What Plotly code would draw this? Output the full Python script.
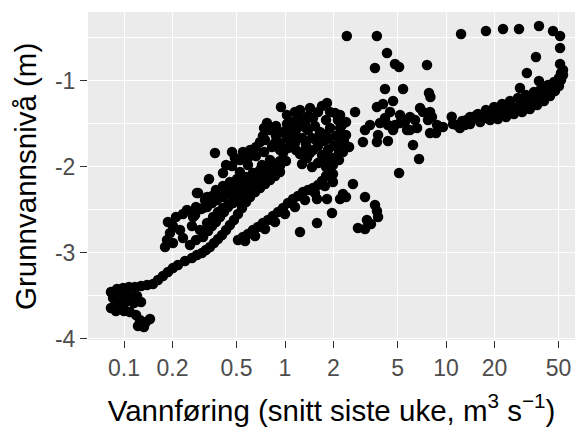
import plotly.graph_objects as go

# Weekly mean discharge (m3/s) and groundwater level (m)
tail_q = [0.0830, 0.0905, 0.0986, 0.1073, 0.1169, 0.1276, 0.139, 0.0855, 0.0958, 0.1073, 0.1205, 0.1276,
          0.1153, 0.1028, 0.0918, 0.0830, 0.0891, 0.100, 0.1089, 0.1188, 0.1256, 0.1371, 0.145, 0.1222, 0.1330]
tail_h = [-3.457, -3.422, -3.410, -3.399, -3.399, -3.387, -3.376, -3.527, -3.503, -3.492, -3.503, -3.573,
          -3.585, -3.573, -3.597, -3.643, -3.678, -3.678, -3.690, -3.724, -3.783, -3.806, -3.771, -3.852, -3.864]

strand_a_q = [0.1514, 0.1626, 0.1746, 0.1875, 0.2014, 0.2163, 0.2393, 0.2643, 0.2838, 0.3048, 0.3228, 0.342,
              0.3622, 0.3837, 0.4064, 0.4305, 0.455, 0.4819, 0.5105, 0.5408, 0.5728, 0.6067, 0.6516, 0.6998,
              0.7516, 0.8072, 0.8670, 0.9311, 1.239, 1.331]
strand_a_h = [-3.364, -3.318, -3.271, -3.224, -3.178, -3.143, -3.096, -3.062, -3.027, -3.003, -2.969, -2.934,
              -2.887, -2.841, -2.794, -2.736, -2.678, -2.62, -2.55, -2.48, -2.41, -2.352, -2.294, -2.248,
              -2.201, -2.155, -2.108, -2.062, -1.852, -1.806]

strand_b_q = [0.257, 0.280, 0.3097, 0.3327, 0.3524, 0.3724, 0.3945, 0.4178, 0.4426, 0.4688, 0.4966, 0.5248,
              0.5649, 0.6067, 0.6607, 0.7194, 0.7834, 0.855, 0.9311, 1.014]
strand_b_h = [-2.91, -2.852, -2.817, -2.748, -2.69, -2.643, -2.585, -2.527, -2.469, -2.422, -2.376, -2.329,
              -2.271, -2.224, -2.178, -2.131, -2.085, -2.038, -1.992, -1.934]

strand_c_q = [0.5105, 0.5483, 0.5888, 0.6324, 0.6792, 0.7295, 0.7834, 0.8414, 0.9057, 0.9727, 1.044, 1.122,
              1.205, 1.294, 1.390, 1.493, 1.603, 1.698, 1.799, 1.905, 1.986, 2.075, 2.163, 2.259, 2.323,
              0.5649, 0.6516, 0.7516, 0.8670, 1.0, 1.153, 1.331, 1.535, 1.770]
strand_c_h = [-2.852, -2.817, -2.783, -2.736, -2.701, -2.655, -2.62, -2.573, -2.527, -2.48, -2.422, -2.376,
              -2.341, -2.294, -2.271, -2.248, -2.213, -2.166, -2.108, -2.05, -1.98, -1.91, -1.841, -1.771, -1.701,
              -2.864, -2.806, -2.724, -2.643, -2.55, -2.469, -2.387, -2.306, -2.224]

rows_q = [0.2884, 0.3373, 0.3724, 0.4121, 0.455, 0.5035, 0.5728, 0.6324, 0.6998, 0.7621, 0.8414, 0.9311,
          0.2461, 0.2761, 0.3006, 0.3281, 0.3524, 0.3784, 0.4121, 0.455, 0.4887, 0.5248, 0.5808, 0.6324, 0.6998, 0.7727, 0.855,
          0.2228, 0.2323, 0.2643, 0.2965, 0.3281, 0.3573, 0.3837, 0.4121, 0.4426, 0.4753, 0.5105, 0.5483,
          0.3184, 0.3524, 0.389, 0.4305, 0.4753, 0.5330, 0.5976, 0.6607, 0.7295, 0.8072, 0.892]
rows_h = [-2.306, -2.143, -2.271, -2.224, -2.178, -2.143, -2.12, -2.073, -2.038, -1.992, -1.957, -1.934,
          -2.504, -2.562, -2.492, -2.469, -2.422, -2.387, -2.352, -2.329, -2.294, -2.271, -2.224, -2.19, -2.155, -2.12, -2.096,
          -2.736, -2.829, -2.69, -2.736, -2.655, -2.585, -2.527, -2.48, -2.445, -2.422, -2.399, -2.387,
          -2.387, -2.341, -2.306, -2.271, -2.236, -2.201, -2.166, -2.12, -2.096, -2.062, -2.027]

left_q = [0.1799, 0.185, 0.2014, 0.1931, 0.2014, 0.1875, 0.2104, 0.2323, 0.2685, 0.280, 0.3097, 0.2838, 0.3281,
          0.3673, 0.4121, 0.4688, 0.4887, 0.5483, 0.6067, 0.6607, 0.6998, 0.7295, 0.7413, 0.7727, 0.8072, 0.8790,
          0.9441, 1.028, 1.028, 1.122, 1.239, 1.349,
          0.5248, 0.5888, 0.6607, 0.7413, 0.8299, 0.9311, 1.044, 1.170, 0.4688, 0.5248,
          0.4305, 0.5888, 0.7194, 0.8072]
left_h = [-2.934, -2.852, -2.887, -2.771, -2.69, -2.643, -2.585, -2.55, -2.585, -2.469, -2.48, -2.306, -2.352,
          -1.841, -2.073, -1.829, -1.899, -1.829, -1.806, -1.771, -1.713, -1.643, -1.55, -1.492, -1.573, -1.527,
          -1.306, -1.399, -1.503, -1.48, -1.527, -1.55,
          -1.922, -1.899, -1.876, -1.829, -1.771, -1.724, -1.678, -1.631, -1.992, -2.062,
          -1.98, -1.98, -1.98, -1.922]

upper_q = [0.8790, 0.9727, 1.104, 1.239, 1.331, 1.390, 1.493, 1.603, 1.698, 1.824, 1.905, 2.046, 2.133, 2.198,
           2.075, 2.228, 2.291, 2.163, 1.986, 1.849, 1.770, 1.648, 1.535, 1.472, 1.603, 1.698, 1.493, 1.349,
           1.276, 1.153, 1.044, 0.9727, 1.170, 1.371, 1.276, 1.472, 1.603, 1.799, 1.986, 1.905, 1.799, 2.393,
           2.393, 2.500, 2.723, 3.048,
           0.7516, 0.8670, 0.9311, 1.014, 1.090, 1.187, 1.390, 1.558, 1.722, 1.875, 2.015, 1.824, 1.648, 1.430,
           1.153, 1.430, 1.239]
upper_h = [-1.643, -1.597, -1.55, -1.434, -1.492, -1.41, -1.434, -1.364, -1.294, -1.259, -1.364, -1.376, -1.457, -1.55,
           -1.643, -1.724, -1.829, -1.922, -1.899, -1.806, -1.701, -1.597, -1.527, -1.666, -1.759, -1.864, -1.806, -1.736,
           -1.666, -1.724, -1.783, -1.841, -1.806, -1.899, -1.969, -2.003, -1.957, -2.003, -2.085, -1.55, -1.457, -1.631,
           -1.48, -1.771, -1.364, -1.713,
           -1.69, -1.724, -1.806, -1.631, -1.713, -1.55, -1.573, -1.69, -1.62, -1.666, -1.759, -1.899, -1.945, -1.841,
           -1.364, -1.318, -1.341]

mid_q = [2.198, 2.259, 2.259, 3.724, 4.06, 4.69, 4.18, 4.49, 4.36, 3.89, 3.373, 3.141, 3.784, 3.724, 4.36, 4.69,
         5.18, 5.18, 4.82, 5.56, 5.97, 5.73, 5.97, 6.42, 6.61, 6.90, 7.2, 7.73, 7.96, 8.18, 8.80, 8.67, 7.96,
         6.24, 6.80]
mid_h = [-1.399, -1.515, -1.631, -1.306, -1.271, -1.236, -1.434, -1.364, -1.515, -1.492, -1.515, -1.573, -1.631,
         -1.713, -1.701, -1.573, -1.492, -1.399, -1.515, -1.48, -1.422, -1.573, -1.573, -1.457, -1.55, -1.318,
         -1.364, -1.457, -1.364, -1.422, -1.515, -1.608, -1.608, -1.748, -1.911]

low_q = [5.11, 1.986, 2.642, 1.581, 1.824, 2.198, 2.393, 2.291, 3.141, 3.622, 3.724, 3.784, 3.228, 2.838, 3.141,
         3.420, 1.959, 1.581, 1.239]
low_h = [-2.073, -2.178, -2.201, -2.376, -2.376, -2.376, -2.352, -2.317, -2.352, -2.445, -2.515, -2.585, -2.62,
         -2.713, -2.724, -2.666, -2.538, -2.655, -2.759]

band_q = [9.58, 11.05, 12.6, 14.1, 15.8, 17.7, 19.9, 22.3, 25.0, 28.0, 31.4, 35.2, 38.9, 43.0, 46.9, 50.3, 53.3, 53.3,
          12.2, 14.1, 16.3, 18.8, 21.0, 23.6, 26.4, 29.7, 33.2, 36.8, 40.6, 44.3, 47.5, 50.3,
          15.1, 19.3, 24.3, 30.5, 38.4, 45.5, 10.85, 11.65, 13.4, 15.5, 28.8, 34.7,
          13.1, 17.2, 21.6, 27.2, 34.2, 41.8, 48.2, 51.8]
band_h = [-1.538, -1.503, -1.468, -1.422, -1.387, -1.341, -1.306, -1.271, -1.236, -1.201, -1.166, -1.131, -1.096,
          -1.05, -1.015, -0.969, -0.934, -0.876,
          -1.55, -1.503, -1.48, -1.457, -1.445, -1.422, -1.387, -1.364, -1.329, -1.283, -1.236, -1.178, -1.12, -1.062,
          -1.434, -1.376, -1.329, -1.271, -1.19, -1.108, -1.419, -1.515, -1.457, -1.399, -1.302, -1.224,
          -1.515, -1.434, -1.376, -1.318, -1.248, -1.155, -1.062, -0.992]

arc_q = [2.42, 3.72, 4.30, 3.62, 4.82, 5.11, 7.62, 4.18, 5.41, 7.84, 8.0, 12.4, 17.7, 22.6, 28.4, 37.8, 46.2, 51.1,
         51.1, 36.2, 51.1, 51.8, 31.8, 37.8, 28.8]
arc_h = [-0.48, -0.48, -0.678, -0.852, -0.806, -0.841, -0.817, -1.096, -1.096, -1.143, -1.19, -0.457, -0.422, -0.399,
         -0.399, -0.364, -0.422, -0.48, -0.62, -0.724, -0.806, -0.91, -0.91, -1.003, -1.085]

x_ticks = [0.1, 0.2, 0.5, 1, 2, 5, 10, 20, 50]
x_ticktext = ["0.1", "0.2", "0.5", "1", "2", "5", "10", "20", "50"]
y_ticks = [-4, -3, -2, -1]
y_ticktext = ["-4", "-3", "-2", "-1"]
y_minor = [-3.5, -2.5, -1.5, -0.5]

groups_q = [tail_q, strand_a_q, strand_b_q, strand_c_q, rows_q, left_q, upper_q, mid_q, low_q, band_q, arc_q]
groups_h = [tail_h, strand_a_h, strand_b_h, strand_c_h, rows_h, left_h, upper_h, mid_h, low_h, band_h, arc_h]
q = [v for g in groups_q for v in g]
h = [v for g in groups_h for v in g]

fig = go.Figure(go.Scatter(x=q, y=h, mode="markers",
                           marker=dict(color="black", size=10.5, line=dict(width=0)),
                           hoverinfo="skip"))

tick_font = dict(family="Liberation Sans, Arial, sans-serif", size=23, color="#4D4D4D")
title_font = dict(family="Liberation Sans, Arial, sans-serif", size=29.5, color="black")

fig.update_layout(
    width=577, height=430,
    margin=dict(l=88, r=2, t=12, b=90),
    paper_bgcolor="white", plot_bgcolor="#EBEBEB",
    showlegend=False,
    xaxis=dict(type="log", range=[-1.2236, 1.8012], tickvals=x_ticks, ticktext=x_ticktext,
               showgrid=True, gridcolor="white", gridwidth=1.4, zeroline=False,
               ticks="outside", ticklen=7, tickwidth=1.3, tickcolor="#333333",
               tickfont=tick_font, showline=False,
               title=dict(text="Vannføring (snitt siste uke, m<sup>3</sup> s<sup>−1</sup>)",
                          font=title_font, standoff=20)),
    yaxis=dict(range=[-4.015, -0.201], tickvals=y_ticks, ticktext=y_ticktext,
               showgrid=True, gridcolor="white", gridwidth=1.4, zeroline=False,
               ticks="outside", ticklen=7, tickwidth=1.3, tickcolor="#333333",
               tickfont=tick_font, showline=False,
               minor=dict(tickvals=y_minor, showgrid=True, gridcolor="white",
                          gridwidth=0.7, ticks="")),
    annotations=[dict(text="Grunnvannsnivå (m)", textangle=-90, font=title_font,
                      xref="paper", yref="paper", x=-0.1294, y=0.5,
                      xanchor="center", yanchor="middle", showarrow=False)],
)

fig.write_html("out.html")
